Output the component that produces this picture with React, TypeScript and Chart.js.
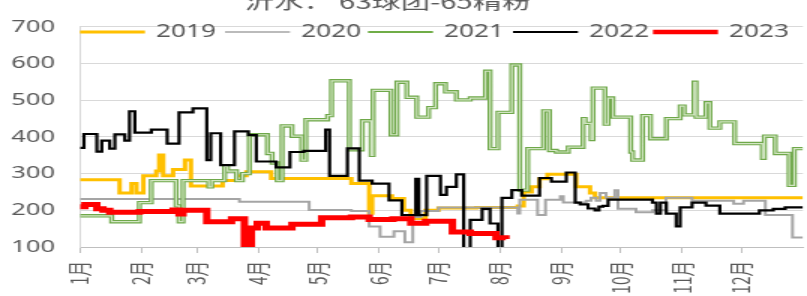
import React, { useEffect, useRef } from "react";
import { Chart, registerables } from "chart.js";

Chart.register(...registerables);

// ---------- data ----------
const monthLabels = ["1月", "2月", "3月", "4月", "5月", "6月", "7月", "8月", "9月", "10月", "11月", "12月"];
const monthStartDays = [0, 31, 59, 90, 120, 151, 181, 212, 243, 273, 304, 334];
const yMin = 100;
const yMax = 700;
const yStep = 100;
const titleText = "沂水： 63球团-65精粉";
const seriesNames = ["2019", "2020", "2021", "2022", "2023"];

const days2019 = [0, 20, 26, 28.5, 32, 38.5, 40, 42, 47, 53, 56, 72, 79, 84, 96.5, 137, 146, 147.5, 157.5, 163.5, 167, 174.5, 181, 200, 221, 224, 228, 232, 236, 250.5, 257.5, 260, 365];
const price2019 = [283, 247, 273, 247, 294, 307, 351, 294, 311, 337, 266, 281, 294, 305, 287, 273, 192, 240, 232, 200, 178, 200, 206, 208, 212, 250, 264, 286, 298, 264, 247, 234, 234];

const days2020 = [0, 80.5, 115.7, 137, 146, 151.5, 158.5, 164, 168, 172, 181, 221, 222, 231, 235, 242.5, 244, 255.5, 258, 260.6, 262.6, 265.6, 270, 271.6, 280.7, 289, 295.8, 309, 330, 335, 346, 359.7, 365];
const price2020 = [231, 223, 201, 198, 156, 128, 143, 113, 182, 198, 208, 191, 229, 187, 229, 238, 221, 226, 234, 226, 247, 234, 255, 204, 195, 200, 234, 226, 218, 226, 187, 126, 126];

const days2021 = [0, 16, 30, 36, 48.5, 50, 52, 65, 66.5, 73, 74.5, 79, 82, 85.5, 94.6, 97, 99.6, 102, 107, 112, 114, 125, 127, 136, 142.5, 147, 148, 157, 160, 165, 170, 176, 179.5, 184.5, 190, 197, 204.7, 207, 211, 218, 222, 226, 234, 237, 240.5, 246.5, 254, 255, 258, 259, 265, 266.6, 269, 278, 279, 284, 288, 296, 303, 305, 310, 311, 316, 318, 323, 330.5, 344.5, 345.5, 351, 358, 360.6, 365];
const price2021 = [185, 169, 221, 281, 212, 169, 281, 264, 281, 320, 307, 281, 300, 406, 355, 329, 281, 430, 402, 337, 447, 458, 553, 365, 444, 350, 527, 406, 549, 508, 454, 480, 545, 523, 501, 506, 579, 368, 467, 596, 255, 368, 471, 363, 359, 372, 450, 437, 393, 533, 435, 506, 454, 359, 337, 458, 395, 450, 484, 460, 549, 454, 493, 424, 441, 382, 342, 402, 355, 268, 368, 368];

const days2022 = [0, 2, 8.5, 11, 15, 17.6, 22.6, 25, 27.7, 36, 44, 50, 57, 64, 66, 71, 78, 85, 89, 99, 106, 113, 124, 126, 135, 141, 147.5, 156, 162.5, 169.5, 171, 175, 182, 185, 190, 193.7, 197, 203, 207, 211, 213, 218, 223, 232, 238, 245.5, 250, 252.5, 256.5, 260, 262, 264, 266.6, 289, 291, 293, 296, 301, 303, 309, 316, 323, 343, 350, 356, 365];
const price2022 = [370, 408, 360, 390, 368, 407, 390, 470, 412, 420, 382, 467, 478, 337, 410, 323, 415, 405, 333, 317, 359, 362, 420, 294, 369, 281, 273, 227, 187, 286, 187, 294, 242, 264, 298, 60, 174, 204, 164, 60, 234, 255, 240, 288, 278, 303, 221, 216, 205, 200, 210, 212, 229, 221, 191, 221, 191, 156, 208, 221, 213, 191, 200, 204, 208, 208];

const days2023 = [0, 2.5, 8.5, 11.6, 15, 30, 47, 50, 52, 64, 76.5, 83, 86.5, 89.5, 94, 107, 122, 137, 146, 158, 167, 174.5, 188, 197, 210, 215];
const price2023 = [210, 216, 204, 200, 195, 197, 201, 190, 200, 169, 177, 104, 152, 165, 152, 162, 180, 182, 175, 177, 165, 170, 141, 137, 125, 122];

// ---------- layout (final pixels; canvas is stretched horizontally) ----------
const W = 807;
const H = 296;
const SX = 1.5;
const CW = Math.round(W / SX);
const PLOT_LEFT = 80;
const PLOT_RIGHT = 803;
const PLOT_TOP = 15;
const PLOT_BOTTOM = 247;

const pts = (d: number[], v: number[]) => d.map((x, i) => ({ x, y: v[i] }));

const legendItems = [
  { label: seriesNames[0], color: "#FFC000", width: 3, x: 80 },
  { label: seriesNames[1], color: "#A5A5A5", width: 1.5, x: 225 },
  { label: seriesNames[2], color: "#70AD47", width: 2, x: 368 },
  { label: seriesNames[3], color: "#000000", width: 2, x: 513 },
  { label: seriesNames[4], color: "#FF0000", width: 4.5, x: 653 },
];

const overlayPlugin = {
  id: "overlay",
  afterDraw(chart: any) {
    const ctx = chart.ctx as CanvasRenderingContext2D;
    ctx.save();
    // title (cut off at top)
    ctx.fillStyle = "#595959";
    ctx.font = '19.5px "Noto Sans CJK SC", sans-serif';
    ctx.textAlign = "center";
    ctx.textBaseline = "alphabetic";
    ctx.fillText(titleText, 388 / SX, 9);
    // legend
    const ly = 32;
    ctx.font = '17.5px "Noto Sans", sans-serif';
    ctx.textAlign = "left";
    ctx.textBaseline = "middle";
    legendItems.forEach((it) => {
      const x0 = it.x / SX;
      ctx.strokeStyle = it.color;
      ctx.lineWidth = it.width;
      ctx.beginPath();
      ctx.moveTo(x0, ly);
      ctx.lineTo(x0 + 65 / SX, ly);
      ctx.stroke();
      ctx.fillStyle = "#595959";
      ctx.fillText(it.label, x0 + 76 / SX, ly);
    });
    ctx.restore();
  },
};

export default function App() {
  const ref = useRef<HTMLCanvasElement>(null);
  useEffect(() => {
    if (!ref.current) return;
    const common = { stepped: true, pointRadius: 0, fill: false };
    const chart = new Chart(ref.current, {
      type: "line",
      data: {
        datasets: [
          { ...common, label: seriesNames[0], data: pts(days2019, price2019), borderColor: "#FFC000", borderWidth: 3, order: 5 },
          { ...common, label: seriesNames[1], data: pts(days2020, price2020), borderColor: "#A5A5A5", borderWidth: 2, order: 4 },
          { ...common, label: seriesNames[2], data: pts(days2021, price2021), borderColor: "#6FA84A", borderWidth: 3.4, order: 3 },
          { ...common, label: seriesNames[2] + "i", data: pts(days2021, price2021), borderColor: "#D3E6C4", borderWidth: 1.2, order: 2 },
          { ...common, label: seriesNames[3], data: pts(days2022, price2022), borderColor: "#000000", borderWidth: 2.2, order: 1 },
          { ...common, label: seriesNames[4], data: pts(days2023, price2023), borderColor: "#FF0000", borderWidth: 5, order: 0 },
        ] as any,
      },
      options: {
        responsive: false,
        animation: false,
        devicePixelRatio: 1,
        layout: { padding: { top: PLOT_TOP, right: CW - PLOT_RIGHT / SX, left: 0, bottom: 0 } },
        plugins: { legend: { display: false }, title: { display: false }, tooltip: { enabled: false } },
        scales: {
          x: {
            type: "linear",
            min: 0,
            max: 365,
            afterBuildTicks: (scale: any) => {
              scale.ticks = monthStartDays.map((v) => ({ value: v }));
            },
            afterFit: (scale: any) => {
              scale.height = H - PLOT_BOTTOM;
            },
            ticks: {
              autoSkip: false,
              minRotation: 90,
              maxRotation: 90,
              padding: 8,
              color: "#595959",
              font: { family: '"Noto Sans CJK SC", sans-serif', size: 15.5 },
              callback: (v: any) => {
                const i = monthStartDays.indexOf(Number(v));
                return i >= 0 ? monthLabels[i] : "";
              },
            },
            grid: { drawOnChartArea: false, drawTicks: true, tickLength: 6, color: "#bfbfbf" },
            border: { display: true, color: "#bfbfbf" },
          },
          y: {
            min: yMin,
            max: yMax,
            afterFit: (scale: any) => {
              scale.width = PLOT_LEFT / SX;
            },
            ticks: {
              stepSize: yStep,
              padding: (PLOT_LEFT - 55) / SX,
              color: "#595959",
              font: { family: '"Noto Sans", sans-serif', size: 17 },
            },
            grid: { color: "#d9d9d9", drawTicks: false },
            border: { display: true, color: "#d9d9d9" },
          },
        },
      } as any,
      plugins: [overlayPlugin],
    });
    return () => chart.destroy();
  }, []);
  return (
    <div style={{ position: "absolute", left: 0, top: 0, width: W, height: H, background: "#fff" }}>
      <canvas ref={ref} width={CW} height={H} style={{ width: W + "px", height: H + "px", display: "block" }} />
    </div>
  );
}
